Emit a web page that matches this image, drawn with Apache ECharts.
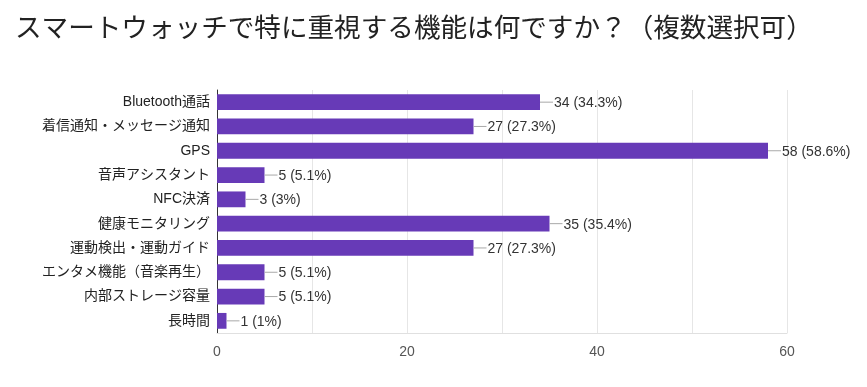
<!DOCTYPE html>
<html><head><meta charset="utf-8">
<script src="https://cdn.jsdelivr.net/npm/echarts@6/dist/echarts.min.js"></script>
<style>html,body{margin:0;padding:0;background:#fff}#c{width:867px;height:387px}</style>
</head><body><div id="c"></div>
<script>
const titleText = 'スマートウォッチで特に重視する機能は何ですか？（複数選択可）';
const categories = ['Bluetooth通話','着信通知・メッセージ通知','GPS','音声アシスタント','NFC決済','健康モニタリング','運動検出・運動ガイド','エンタメ機能（音楽再生）','内部ストレージ容量','長時間'];
const counts = [34, 27, 58, 5, 3, 35, 27, 5, 5, 1];
const percents = ['34.3%','27.3%','58.6%','5.1%','3%','35.4%','27.3%','5.1%','5.1%','1%'];
const xTicks = [0, 20, 40, 60];

const FONT = '"Noto Sans CJK JP", Roboto, Arial, sans-serif';
const LFONT = '"Liberation Sans", Arial, "Noto Sans CJK JP", sans-serif';
const chart = echarts.init(document.getElementById('c'), null, {renderer:'canvas'});
chart.setOption({
  animation: false,
  backgroundColor: '#fff',
  title: {
    text: titleText, left: 10, top: 9,
    textStyle: {fontFamily: FONT, fontSize: 26.6, fontWeight: 'normal', color: '#222'}
  },
  grid: {left: 217, right: 80, top: 90, bottom: 54, containLabel: false},
  xAxis: {
    type: 'value', min: 0, max: 60, interval: 10,
    axisLine: {show: true, lineStyle: {color: '#e0e0e0', width: 1}},
    axisTick: {show: false},
    splitLine: {show: true, lineStyle: {color: '#e6e6e6', width: 1}},
    axisLabel: {
      margin: 12, color: '#555', fontFamily: LFONT, fontSize: 14,
      formatter: v => xTicks.includes(v) ? String(v) : ''
    }
  },
  yAxis: {
    type: 'category', inverse: true, data: categories,
    axisLine: {show: true, lineStyle: {color: '#333', width: 1}},
    axisTick: {show: false},
    axisLabel: {margin: 7, color: '#222', fontFamily: LFONT, fontSize: 14}
  },
  series: [{
    type: 'bar',
    data: counts,
    barCategoryGap: '35%',
    itemStyle: {color: '#673ab7'},
    label: {
      show: true, position: 'right', distance: 0,
      formatter: p => '{l| }{t|' + counts[p.dataIndex] + ' (' + percents[p.dataIndex] + ')}',
      rich: {
        l: {width: 13, height: 1, backgroundColor: '#a8a8a8'},
        t: {fontFamily: LFONT, fontSize: 14, color: '#333', padding: [2,0,0,1]}
      }
    }
  }]
});
</script></body></html>
